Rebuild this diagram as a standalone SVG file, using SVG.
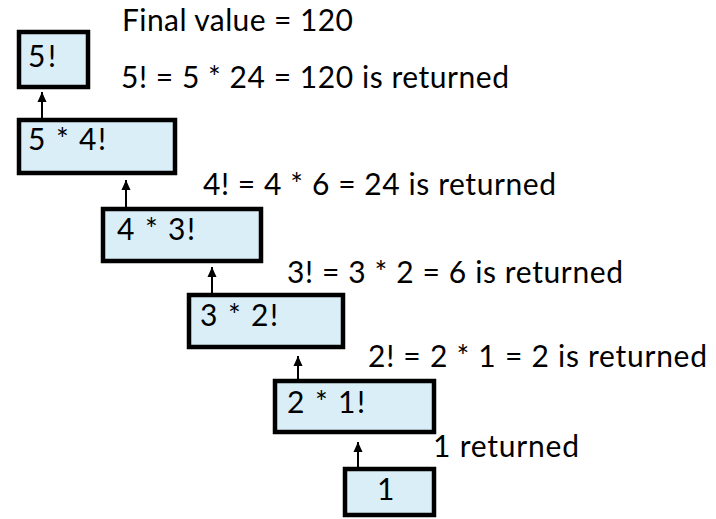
<svg xmlns="http://www.w3.org/2000/svg" width="716" height="519" viewBox="0 0 716 519">
<defs>
<marker id="ah" markerUnits="userSpaceOnUse" markerWidth="10" markerHeight="10" viewBox="0 0 10 10" refX="10" refY="5" orient="auto">
<path d="M0,0.5 L10,5 L0,9.5 Z" fill="#000"/>
</marker>
<style>
.box{fill:#DAEEF8;stroke:#000;stroke-width:4.5}
.t{font-family:Lato,"Open Sans","Liberation Sans",sans-serif;font-size:30px;fill:#000}
.c{stroke:#000;stroke-width:2;fill:none;marker-end:url(#ah)}
</style>
</defs>
<rect width="716" height="519" fill="#fff"/>
<g id="n1"><rect class="box" x="19" y="32" width="69" height="55"/><text class="t" x="28" y="67" textLength="28">5!</text></g>
<g id="n2"><rect class="box" x="19" y="120" width="156" height="53"/><text class="t" x="28" y="150" textLength="78">5 * 4!</text></g>
<g id="n3"><rect class="box" x="103" y="209" width="158" height="52"/><text class="t" x="117" y="240" textLength="78">4 * 3!</text></g>
<g id="n4"><rect class="box" x="189" y="295" width="154" height="52"/><text class="t" x="200" y="326" textLength="78">3 * 2!</text></g>
<g id="n5"><rect class="box" x="275" y="381" width="159" height="51"/><text class="t" x="287" y="413" textLength="78">2 * 1!</text></g>
<g id="n6"><rect class="box" x="345" y="469" width="89" height="46"/><text class="t" x="377" y="500" textLength="17">1</text></g>
<g id="labels">
<text class="t" x="122" y="31" textLength="231">Final value = 120</text>
<text class="t" x="121" y="88" textLength="388">5! = 5 * 24 = 120 is returned</text>
<text class="t" x="203" y="195" textLength="353">4! = 4 * 6 = 24 is returned</text>
<text class="t" x="287" y="283" textLength="336">3! = 3 * 2 = 6 is returned</text>
<text class="t" x="368" y="367" textLength="339">2! = 2 * 1 = 2 is returned</text>
<text class="t" x="433" y="457" textLength="146">1 returned</text>
</g>
<g id="connectors">
<line class="c" x1="42" y1="118" x2="42" y2="92"/>
<line class="c" x1="126" y1="207" x2="126" y2="180"/>
<line class="c" x1="212" y1="293" x2="212" y2="267"/>
<line class="c" x1="298" y1="379" x2="298" y2="356"/>
<line class="c" x1="358" y1="467" x2="358" y2="442"/>
</g>
</svg>
